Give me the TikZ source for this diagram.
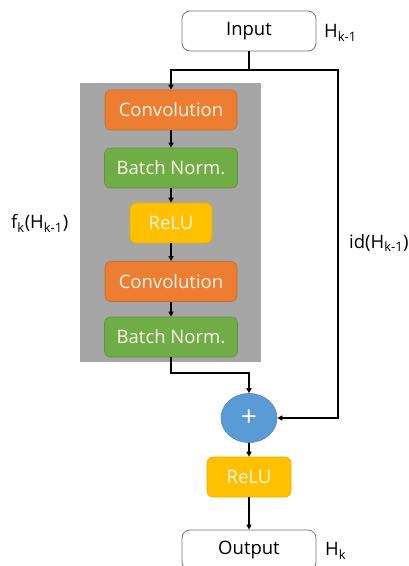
\documentclass[tikz,border=0pt]{standalone}
\usepackage{fontspec}
\setmainfont{Open Sans}
\usetikzlibrary{arrows.meta,shapes.geometric}
\definecolor{cOrange}{HTML}{ED7D31}
\definecolor{cGreen}{HTML}{70AD47}
\definecolor{cYellow}{HTML}{FFC000}
\definecolor{cBlue}{HTML}{5B9BD5}
\definecolor{cGray}{HTML}{A6A6A6}
\definecolor{cText}{HTML}{FBF6EC}
\begin{document}
\begin{tikzpicture}[x=1pt,y=-1pt,
  every node/.style={font=\fontsize{18.5}{20}\selectfont, inner sep=0pt},
  layer/.style={rectangle, rounded corners=6pt, minimum height=40pt, text=cText, line width=0.6pt},
  convbox/.style={layer, fill=cOrange, draw=cOrange!85!black, minimum width=132pt},
  bnbox/.style={layer, fill=cGreen, draw=cGreen!85!black, minimum width=133pt},
  relubox/.style={layer, fill=cYellow, draw=cYellow!90!black},
  iobox/.style={rectangle, rounded corners=8pt, draw=black!55, line width=0.8pt, fill=white, minimum width=134pt, minimum height=40pt},
  arr/.style={line width=1.4pt, -{Triangle[length=5pt,width=5pt]}},
  ln/.style={line width=1.4pt}
]
\useasboundingbox (0,0) rectangle (408,566);
\node[rectangle, fill=cGray, minimum width=181pt, minimum height=279pt] (block) at (170.5,222.5) {};
\node[iobox] (input) at (249,31) {Input};
\node[anchor=west] (hin) at (324,33) {H\textsubscript{k-1}};
\node[convbox] (conv1) at (171,110) {Convolution};
\node[bnbox] (bn1) at (171,168) {Batch Norm.};
\node[relubox, minimum width=82pt] (relu1) at (171,223) {ReLU};
\node[convbox] (conv2) at (171,281.5) {Convolution};
\node[bnbox] (bn2) at (171,337) {Batch Norm.};
\node[ellipse, fill=cBlue, draw=cBlue!85!black, line width=0.6pt, minimum width=56pt, minimum height=49pt, text=white, font=\fontsize{28}{30}\selectfont] (plus) at (249,418) {+};
\node[relubox, minimum width=84pt] (relu2) at (249,477) {ReLU};
\node[iobox] (output) at (249,550) {Output};
\node[anchor=west] (hout) at (325,551) {H\textsubscript{k}};
\node[anchor=west] (fk) at (11,223) {f\textsubscript{k}(H\textsubscript{k-1})};
\node[anchor=west] (idl) at (349,243) {id(H\textsubscript{k-1})};
\coordinate (split) at (249,70);
\coordinate (rt) at (338,70);
\coordinate (bend) at (171,373);
\draw[ln] (input.south) -- (split);
\draw[arr] (split) -| (conv1.north);
\draw[arr] (split) -- (rt) |- (plus.east);
\draw[arr] (conv1) -- (bn1);
\draw[arr] (bn1) -- (relu1);
\draw[arr] (relu1) -- (conv2);
\draw[arr] (conv2) -- (bn2);
\draw[arr] (bn2.south) -- (bend) -| (plus.north);
\draw[arr] (plus) -- (relu2);
\draw[arr] (relu2) -- (output);
\end{tikzpicture}
\end{document}
